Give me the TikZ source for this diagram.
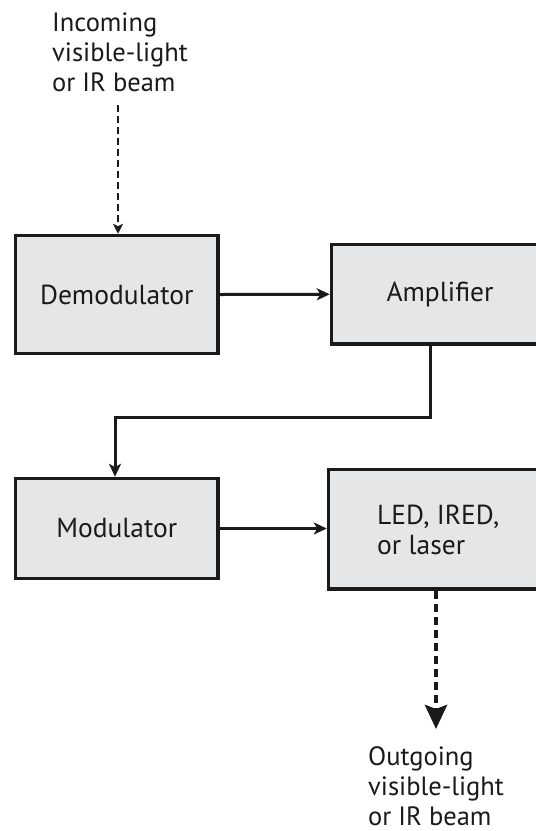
\documentclass[tikz,border=0pt]{standalone}
\usepackage{fontspec}
\setmainfont{PT Sans}
\usetikzlibrary{arrows.meta}
\definecolor{boxfill}{HTML}{E5E6E7}
\definecolor{ink}{HTML}{1A1A1A}
\tikzset{
  blockbox/.style={draw=ink, line width=3.5pt, fill=boxfill, rectangle, inner sep=0pt},
  boxtext/.style={font=\fontsize{27.5}{30}\selectfont, text=ink, inner sep=0pt},
  beamtext/.style={font=\fontsize{26.5}{30}\selectfont, text=ink, inner sep=0pt, align=left},
  flow/.style={draw=ink, line width=3pt, -{Stealth[length=13pt,width=12pt,inset=3.5pt]}},
  inbeam/.style={draw=ink, line width=2pt, dash pattern=on 7pt off 4pt, -{Stealth[length=10pt,width=10pt,inset=2.5pt]}},
  outbeam/.style={draw=ink, line width=4.5pt, dash pattern=on 8pt off 5pt, -{Stealth[length=24pt,width=22pt,inset=4pt]}}
}
\begin{document}
\begin{tikzpicture}[x=1pt,y=-1pt]
\useasboundingbox (0,0) rectangle (536,831);
\clip (0,0) rectangle (536,831);
\fill[white] (0,0) rectangle (536,831);
% boxes
\node[blockbox, minimum width=202.5pt, minimum height=118pt] (demod) at (116.75,294.5) {};
\node[blockbox, minimum width=217pt, minimum height=99.5pt] (amp) at (440,294.25) {};
\node[blockbox, minimum width=202.5pt, minimum height=100pt] (mod) at (116.75,528.5) {};
\node[blockbox, minimum width=223pt, minimum height=119.5pt] (led) at (440,529.25) {};
% texts
\node[boxtext] (demodtext) at (demod.center) {Demodulator};
\node[boxtext] (amptext) at (amp.center) {Amplifier};
\node[boxtext] (modtext) at (mod.center) {Modulator};
\node[boxtext, align=left, anchor=west] (ledtext) at (377,530) {LED, IRED,\\or laser};
\node[beamtext, anchor=north west] (intext) at (52,13) {Incoming\\visible-light\\or IR beam};
\node[beamtext, anchor=north west] (outtext) at (368,746) {Outgoing\\visible-light\\or IR beam};
% connectors
\coordinate (inbeg) at (118,105);
\draw[inbeam] (inbeg) -- (inbeg |- demod.north);
\draw[flow] (demod.east) -- (amp.west);
\coordinate (ampout) at (430,345);
\coordinate (bendA) at (430,417);
\coordinate (bendB) at (115,417);
\draw[flow, line join=miter] (ampout) -- (bendA) -- (bendB) -- (bendB |- mod.north);
\draw[flow] (mod.east) -- (mod.east -| led.west);
\coordinate (outbeg) at (436,591);
\coordinate (outend) at (436,729);
\draw[outbeam] (outbeg) -- (outend);
\end{tikzpicture}
\end{document}
